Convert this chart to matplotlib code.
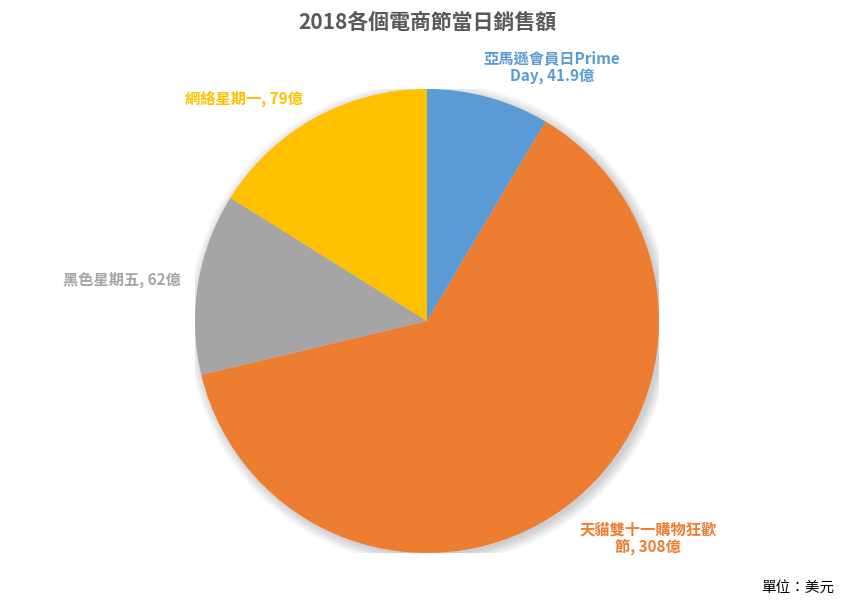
import matplotlib
matplotlib.use("Agg")
import matplotlib.pyplot as plt
from matplotlib.patches import Circle

plt.rcParams['font.family'] = ['Noto Sans CJK TC', 'DejaVu Sans']

categories = ["亞馬遜會員日Prime\nDay", "天貓雙十一購物狂歡\n節", "黑色星期五", "網絡星期一"]
values = [41.9, 308, 62, 79]
value_labels = ["41.9億", "308億", "62億", "79億"]
colors = ["#5B9BD5", "#ED7D31", "#A5A5A5", "#FFC000"]
title = "2018各個電商節當日銷售額"
unit_note = "單位：美元"

W, H = 855, 602
fig = plt.figure(figsize=(W / 100, H / 100), dpi=100)
cx, cy, r = 427, 321, 232
ax = fig.add_axes([(cx - r) / W, (H - cy - r) / H, 2 * r / W, 2 * r / H])
ax.set_xlim(-1, 1)
ax.set_ylim(-1, 1)
ax.set_aspect('equal')
ax.axis('off')

# soft shadow
for i in range(8):
    ax.add_patch(Circle((0.012, -0.012), 1.0 + 0.006 * i, color='black',
                        alpha=0.025, lw=0, zorder=0))

ax.pie(values, colors=colors, startangle=90, counterclock=False, radius=1.0,
       wedgeprops=dict(linewidth=0), center=(0, 0), frame=False)
ax.set_xlim(-1, 1)
ax.set_ylim(-1, 1)

label_pos = [(0.539, 1.095), (0.953, -0.935), (-1.315, 0.177), (-0.789, 0.957)]
for cat, vl, col, (x, y) in zip(categories, value_labels, colors, label_pos):
    ax.text(x, y, f"{cat}, {vl}", color=col, fontsize=11, fontweight='bold',
            ha='center', va='center', linespacing=1.1)

fig.text(427 / W, 1 - 22 / H, title, ha='center', va='center', fontsize=15,
         fontweight='bold', color='#595959')
fig.text(834 / W, 1 - 588 / H, unit_note, ha='right', va='center', fontsize=10.5,
         color='black')

fig.savefig("out.png", dpi=100, facecolor='white')
